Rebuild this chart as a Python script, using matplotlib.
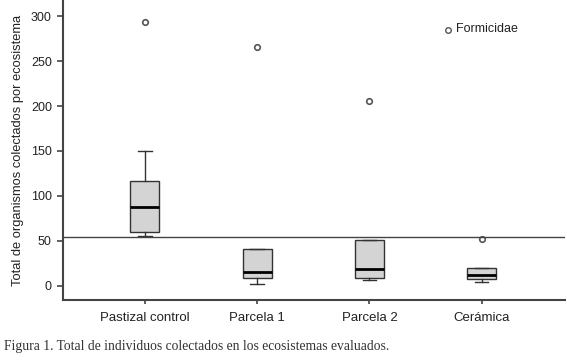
import matplotlib.pyplot as plt

# datos
categorias = ["Pastizal control", "Parcela 1", "Parcela 2", "Cerámica"]
q1 = [60, 9, 9, 8]
mediana = [88, 15.5, 19, 12]
q3 = [117, 41, 51, 20]
bigote_inf = [55, 2, 6.5, 4.5]
bigote_sup = [150, 41, 51, 20]
atipicos = [[293], [266], [206], [52]]
linea_ref = 54.5
formicidae = (3.7, 285)

plt.rcParams["font.family"] = "Liberation Sans"

fig = plt.figure(figsize=(5.67, 3.63), dpi=100)
ax = fig.add_axes([0.111, 0.174, 0.885, 0.826])

stats = []
for i in range(len(categorias)):
    stats.append({
        "label": categorias[i],
        "q1": q1[i], "med": mediana[i], "q3": q3[i],
        "whislo": bigote_inf[i], "whishi": bigote_sup[i],
        "fliers": atipicos[i],
    })

ax.bxp(stats, positions=[1, 2, 3, 4], widths=0.26, patch_artist=True,
       boxprops=dict(facecolor="#d4d4d4", edgecolor="#333333", linewidth=1),
       medianprops=dict(color="black", linewidth=2),
       whiskerprops=dict(color="#333333", linewidth=1),
       capprops=dict(color="#333333", linewidth=1), capwidths=0.12,
       flierprops=dict(marker="o", markersize=4, markerfacecolor="white",
                       markeredgecolor="#555555", markeredgewidth=1.2))

# línea horizontal de referencia
ax.axhline(linea_ref, color="#444444", linewidth=1)

# etiqueta Formicidae
ax.plot([formicidae[0]], [formicidae[1]], marker="o", markersize=4,
        markerfacecolor="white", markeredgecolor="#555555", markeredgewidth=1)
ax.text(formicidae[0] + 0.07, formicidae[1] + 1, "Formicidae", fontsize=9,
        va="center", ha="left", color="#222222")

ax.set_xlim(0.27, 4.74)
ax.set_ylim(-15.6, 318)
ax.set_yticks([0, 50, 100, 150, 200, 250, 300])
ax.set_ylabel("Total de organismos colectados por ecosistema", fontsize=9.3,
              color="#222222")
ax.yaxis.set_label_coords(-0.078, 0.497)

for s in ["top", "right"]:
    ax.spines[s].set_visible(False)
for s in ["left", "bottom"]:
    ax.spines[s].set_color("#444444")
    ax.spines[s].set_linewidth(1.5)
ax.tick_params(axis="both", colors="#444444", labelcolor="#222222",
               labelsize=9, width=1.2, length=4.5)
ax.tick_params(axis="x", labelsize=9.5, length=3, pad=6)

fig.text(0.007, 0.035, "Figura 1. Total de individuos colectados en los ecosistemas evaluados.",
         fontsize=9.8, family="Liberation Serif", color="#333333")

fig.savefig("out.png", dpi=100)
